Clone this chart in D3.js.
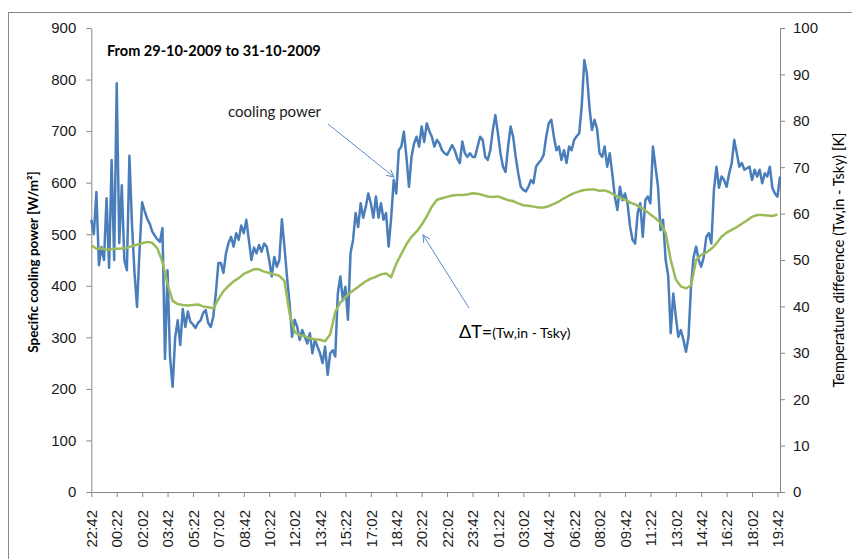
<!DOCTYPE html>
<html>
<head>
<meta charset="utf-8">
<script src="https://cdn.jsdelivr.net/npm/d3@7"></script>
<style>
  body { margin: 0; background: #fff; }
  svg { font-family: Lato, "Open Sans", sans-serif; }
</style>
</head>
<body>
<svg id="chart" width="852" height="559"></svg>
<script>
// tick labels on the time axis, one every 100 minutes
const timeLabels = ["22:42", "00:22", "02:02", "03:42", "05:22", "07:02", "08:42", "10:22", "12:02",
  "13:42", "15:22", "17:02", "18:42", "20:22", "22:02", "23:42", "01:22", "03:02", "04:42",
  "06:22", "08:02", "09:42", "11:22", "13:02", "14:42", "16:22", "18:02", "19:42"];

// specific cooling power [W/m2], one sample every 10 minutes from 22:42
const coolingPower = [
  528, 500, 582, 440, 475, 450, 570, 435, 644, 450, 793, 483, 595, 450, 430, 652, 520, 425, 359, 470,
  562, 545, 530, 520, 505, 497, 490, 485, 512, 258, 430, 260, 204, 300, 333, 285, 355, 320, 350, 330,
  325, 318, 328, 333, 347, 353, 328, 320, 340, 385, 444, 444, 425, 463, 483, 495, 476, 502, 489, 517,
  502, 528, 489, 450, 474, 463, 479, 466, 482, 476, 450, 418, 456, 437, 450, 529, 476, 418, 367, 301,
  334, 321, 295, 314, 301, 288, 308, 269, 295, 282, 269, 250, 282, 227, 269, 275, 263, 385, 418, 372,
  398, 334, 463, 489, 541, 514, 560, 532, 553, 579, 560, 532, 573, 532, 560, 528, 541, 476, 532, 605,
  579, 663, 670, 699, 650, 592, 650, 676, 689, 670, 709, 679, 715, 700, 689, 670, 683, 676, 663, 657,
  654, 663, 673, 663, 647, 638, 680, 657, 650, 657, 650, 650, 670, 689, 683, 650, 644, 663, 702, 731,
  696, 657, 631, 621, 670, 709, 689, 650, 618, 592, 586, 583, 592, 605, 599, 631, 638, 644, 654, 689,
  715, 722, 690, 663, 670, 644, 663, 638, 670, 663, 683, 690, 696, 750, 838, 812, 747, 702, 722, 705,
  657, 650, 670, 631, 657, 618, 573, 547, 592, 566, 579, 560, 515, 489, 482, 541, 560, 495, 566, 573,
  560, 670, 631, 592, 508, 528, 450, 420, 308, 385, 340, 301, 314, 295, 272, 301, 400, 456, 476, 450,
  437, 456, 495, 502, 482, 586, 631, 590, 612, 605, 592, 618, 638, 683, 657, 631, 638, 625, 628, 631,
  605, 625, 612, 625, 599, 618, 612, 631, 590, 579, 573, 612
];

// temperature difference Tw,in - Tsky [K], one sample every 20 minutes from 22:42
const deltaT = [
  53.2, 52.4, 52.5, 52.2, 52.3, 52.4, 52.5, 52.6, 53.0, 53.3, 53.6, 53.9, 53.7, 52.5, 49.6, 44.8, 41.2, 40.5, 40.3, 40.2,
  40.3, 40.4, 40.0, 39.8, 39.6, 41.5, 43.3, 44.4, 45.4, 46.1, 47.0, 47.5, 48.0, 48.0, 47.5, 47.2, 46.9, 46.6, 45.5, 38.5,
  34.5, 33.8, 33.6, 33.1, 32.9, 32.8, 32.5, 34.0, 38.8, 40.8, 42.0, 43.0, 43.8, 44.6, 45.4, 46.0, 46.4, 46.9, 47.1, 46.3,
  49.2, 51.3, 53.4, 55.0, 56.1, 57.6, 59.4, 61.5, 63.0, 63.3, 63.6, 63.9, 64.0, 64.0, 64.1, 64.4, 64.3, 64.0, 63.7, 63.6,
  63.7, 63.3, 62.9, 62.7, 62.2, 61.8, 61.7, 61.5, 61.3, 61.3, 61.6, 62.1, 62.6, 63.3, 63.9, 64.4, 64.8, 65.1, 65.2, 65.2,
  64.9, 65.0, 64.6, 64.0, 63.4, 63.0, 62.4, 62.0, 61.4, 60.7, 59.8, 59.0, 58.0, 55.8, 50.0, 45.8, 44.3, 43.9, 44.5, 50.0,
  51.1, 51.6, 52.4, 53.6, 55.0, 55.9, 56.5, 57.1, 57.8, 58.5, 59.3, 59.7, 59.7, 59.6, 59.5, 59.8
];

const svg = d3.select("#chart");
const axisColor = "#868686";
const textColor = "#1a1a1a";

// outer chart border
svg.append("rect")
  .attr("x", 8.5).attr("y", 12.5)
  .attr("width", 900).attr("height", 600)
  .attr("fill", "none").attr("stroke", axisColor).attr("stroke-width", 1);

const plotLeft = 91.3, plotRight = 780, plotTop = 28, plotBottom = 492;

const x = d3.scaleLinear().domain([0, 2710]).range([plotLeft, plotRight]);
const yPower = d3.scaleLinear().domain([0, 900]).range([plotBottom, plotTop]);
const yTemp = d3.scaleLinear().domain([0, 100]).range([plotBottom, plotTop]);

function styleAxis(g) {
  g.selectAll("path.domain").attr("stroke", axisColor);
  g.selectAll(".tick line").attr("stroke", axisColor);
  g.selectAll(".tick text").attr("fill", textColor).style("font-size", "15px");
}

// left axis
svg.append("g")
  .attr("transform", `translate(${plotLeft},0)`)
  .call(d3.axisLeft(yPower).tickValues(d3.range(0, 901, 100)).tickSize(5).tickSizeOuter(0).tickPadding(10))
  .call(styleAxis);

// right axis
svg.append("g")
  .attr("transform", `translate(${plotRight},0)`)
  .call(d3.axisRight(yTemp).tickValues(d3.range(0, 101, 10)).tickSize(5).tickSizeOuter(0).tickPadding(8))
  .call(styleAxis);

// bottom axis
const xAxis = svg.append("g")
  .attr("transform", `translate(0,${plotBottom})`)
  .call(d3.axisBottom(x).tickValues(d3.range(0, 2701, 100))
    .tickFormat((d, i) => timeLabels[i]).tickSize(5).tickSizeOuter(0))
  .call(styleAxis);
xAxis.selectAll(".tick text")
  .style("font-size", "15px")
  .attr("transform", "rotate(-90)")
  .attr("text-anchor", "end")
  .attr("x", -18).attr("y", 0).attr("dy", "0.35em");

// series
const powerLine = d3.line()
  .x((d, i) => x(i * 10))
  .y(d => yPower(d));
svg.append("path")
  .datum(coolingPower)
  .attr("d", powerLine)
  .attr("fill", "none")
  .attr("stroke", "#4A7EBB")
  .attr("stroke-width", 2.5)
  .attr("stroke-linejoin", "round");

const tempLine = d3.line()
  .x((d, i) => x(i * 20))
  .y(d => yTemp(d));
svg.append("path")
  .datum(deltaT)
  .attr("d", tempLine)
  .attr("fill", "none")
  .attr("stroke", "#9BBB59")
  .attr("stroke-width", 2.5)
  .attr("stroke-linejoin", "round");

// axis titles
svg.append("text")
  .attr("transform", `translate(38,262) rotate(-90)`)
  .attr("text-anchor", "middle")
  .attr("fill", "#000")
  .style("font-size", "13.5px").style("font-weight", "bold")
  .text("Specific cooling power [W/m²]");

svg.append("text")
  .attr("transform", `translate(844,260) rotate(-90)`)
  .attr("text-anchor", "middle")
  .attr("fill", "#000")
  .style("font-size", "14.5px")
  .text("Temperature difference (Tw,in - Tsky) [K]");

// period label
svg.append("text")
  .attr("x", 107).attr("y", 56)
  .attr("fill", "#000")
  .style("font-size", "14.5px").style("font-weight", "bold")
  .text("From 29-10-2009 to 31-10-2009");

// annotations
const defs = svg.append("defs");
defs.append("marker")
  .attr("id", "openArrow")
  .attr("viewBox", "0 0 10 10")
  .attr("refX", 9).attr("refY", 5)
  .attr("markerWidth", 9).attr("markerHeight", 9)
  .attr("markerUnits", "userSpaceOnUse")
  .attr("orient", "auto")
  .append("path")
  .attr("d", "M1,1 L9,5 L1,9")
  .attr("fill", "none")
  .attr("stroke", "#5B8BC9")
  .attr("stroke-width", 1.1);

svg.append("text")
  .attr("x", 228).attr("y", 117)
  .attr("fill", textColor)
  .style("font-size", "15px")
  .text("cooling power");

svg.append("line")
  .attr("x1", 328).attr("y1", 124)
  .attr("x2", 394).attr("y2", 177)
  .attr("stroke", "#5B8BC9").attr("stroke-width", 1)
  .attr("marker-end", "url(#openArrow)");

const dtLabel = svg.append("text")
  .attr("x", 459).attr("y", 338)
  .attr("fill", "#000");
dtLabel.append("tspan").style("font-size", "18px").text("ΔT=");
dtLabel.append("tspan").style("font-size", "14px").text("(Tw,in - Tsky)");

svg.append("line")
  .attr("x1", 469).attr("y1", 308)
  .attr("x2", 423).attr("y2", 235)
  .attr("stroke", "#5B8BC9").attr("stroke-width", 1)
  .attr("marker-end", "url(#openArrow)");
</script>
</body>
</html>
